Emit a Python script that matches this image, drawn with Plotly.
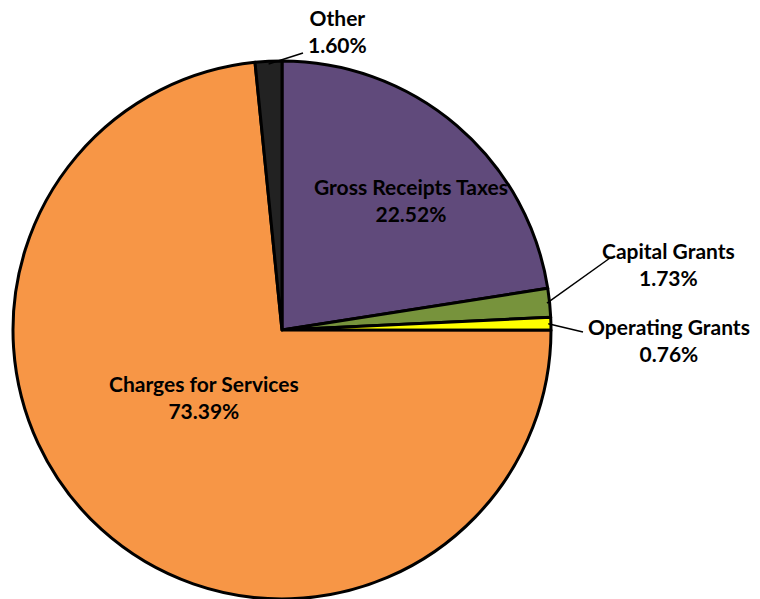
import math
import plotly.graph_objects as go

# Revenue shares by source (percent), drawn clockwise from 12 o'clock
labels = ["Gross Receipts Taxes", "Capital Grants", "Operating Grants",
          "Charges for Services", "Other"]
values = [22.52, 1.73, 0.76, 73.39, 1.60]
colors = ["#604A7B", "#77933C", "#FFFF00", "#F79646", "#222222"]

W, H = 760, 599
cx, cy, r = 282, 330, 269  # pie centre and radius in pixels

fig = go.Figure(go.Pie(
    labels=labels,
    values=values,
    sort=False,
    direction="clockwise",
    rotation=0,
    marker=dict(colors=colors, line=dict(color="black", width=3)),
    textinfo="none",
    hoverinfo="label+percent",
    showlegend=False,
    domain=dict(x=[(cx - r) / W, (cx + r) / W], y=[0, 2 * r / H]),
))


def px(x, y):
    return x / W, 1 - y / H


def edge_point(idx, frac=1.0):
    """Point on the slice's mid-angle at frac * radius (pixels)."""
    total = sum(values)
    start = sum(values[:idx]) / total * 360
    mid = start + values[idx] / total * 360 / 2
    a = math.radians(mid)
    return cx + frac * r * math.sin(a), cy - frac * r * math.cos(a)


font = dict(family="Lato, 'Open Sans', sans-serif", size=21, color="black")

# Labels: (slice index, text centre in pixels)
label_pos = {
    0: (411, 200),
    1: (668, 264),
    2: (669, 340),
    3: (204, 397),
    4: (337, 31),
}
for i, (lx, ly) in label_pos.items():
    x, y = px(lx, ly)
    fig.add_annotation(
        x=x, y=y, xref="paper", yref="paper", showarrow=False,
        text=f"<b>{labels[i]}<br>{values[i]:.2f}%</b>",
        font=font, align="center", xanchor="center", yanchor="middle",
    )

# Leader lines for the narrow slices
leader_ends = {1: (610, 258), 2: (583, 332), 4: (303, 53)}
for i, (ex, ey) in leader_ends.items():
    sx, sy = edge_point(i, 0.99)
    x0, y0 = px(sx, sy)
    x1, y1 = px(ex, ey)
    fig.add_shape(type="line", xref="paper", yref="paper",
                  x0=x0, y0=y0, x1=x1, y1=y1,
                  line=dict(color="black", width=1.5))

fig.update_layout(
    width=W, height=H,
    margin=dict(l=0, r=0, t=0, b=0),
    paper_bgcolor="white",
    plot_bgcolor="white",
)

fig.write_html("out.html")
